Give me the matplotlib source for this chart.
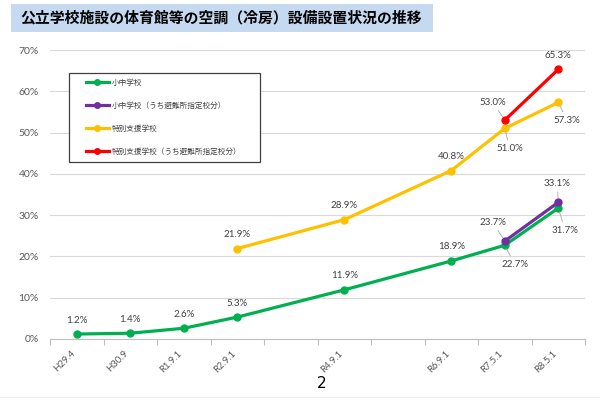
import matplotlib
matplotlib.use('Agg')
import matplotlib.pyplot as plt
from matplotlib.patches import Rectangle
from matplotlib.lines import Line2D
import numpy as np

plt.rcParams['font.family'] = ['Lato', 'Noto Sans CJK JP', 'DejaVu Sans']

title = '公立学校施設の体育館等の空調（冷房）設備設置状況の推移'
dates = ['H29.4', 'H30.9', 'R1.9.1', 'R2.9.1', '', 'R4.9.1', '', 'R6.9.1', 'R7.5.1', 'R8.5.1']
names = ['小中学校', '小中学校（うち避難所指定校分）', '特別支援学校', '特別支援学校（うち避難所指定校分）']

# % values per date, None = no data
shochu = [1.2, 1.4, 2.6, 5.3, None, 11.9, None, 18.9, 22.7, 31.7]
shochu_hinan = [None, None, None, None, None, None, None, None, 23.7, 33.1]
tokubetsu = [None, None, None, 21.9, None, 28.9, None, 40.8, 51.0, 57.3]
tokubetsu_hinan = [None, None, None, None, None, None, None, None, 53.0, 65.3]

colors = ['#00b050', '#7030a0', '#ffc000', '#ff0000']

# label offsets in pixels (default: straight above)
offsets = [
    {8: (10, -19), 9: (7, -22)},
    {8: (-12, 19), 9: (-1, 19)},
    {8: (5, -20), 9: (9, -18)},
    {8: (-12, 18), 9: (0, 14)},
]

fig = plt.figure(figsize=(6, 4), dpi=100)
ax = fig.add_axes([50/600, 1-339/400, 535/600, 289/400])

series = [shochu, shochu_hinan, tokubetsu, tokubetsu_hinan]
for i, vals in enumerate(series):
    xs = [k for k, v in enumerate(vals) if v is not None]
    ys = [v for v in vals if v is not None]
    ax.plot(xs, ys, color=colors[i], lw=2.3, marker='o', ms=5, zorder=3+i)
    for x, y in zip(xs, ys):
        off = offsets[i].get(x, (0, 14))
        lead = None
        if off[0] != 0 or abs(off[1]) > 15:
            lead = dict(arrowstyle='-', color='#a6a6a6', lw=0.6, shrinkA=1, shrinkB=3)
        ax.annotate(f'{y:.1f}%', (x, y), xytext=off, textcoords='offset pixels',
                    ha='center', va='center', fontsize=7, color='#404040',
                    arrowprops=lead, zorder=10)

ax.set_xlim(-0.5, 9.5)
ax.set_ylim(0, 70)
ax.set_xticks(range(len(dates)))
ax.set_xticklabels(dates, rotation=45, ha='right', fontsize=6.8, color='#595959')
ax.set_xticks(np.arange(-0.5, 10, 1), minor=True)
ax.tick_params(axis='x', which='major', length=0, pad=7)
ax.tick_params(axis='x', which='minor', length=4, color='#bfbfbf', width=0.8)
ax.set_yticks(range(0, 80, 10))
ax.set_yticklabels([f'{v}%' for v in range(0, 80, 10)], fontsize=7.5, color='#595959')
ax.tick_params(axis='y', length=0, pad=8)
ax.yaxis.grid(True, color='#d9d9d9', lw=0.8)
ax.set_axisbelow(True)
for s in ['top', 'right', 'left']:
    ax.spines[s].set_visible(False)
ax.spines['bottom'].set_color('#bfbfbf')

# legend box
fig.patches.append(Rectangle((69/600, 1-162/400), 191/600, 89/400, transform=fig.transFigure,
                             facecolor='white', edgecolor='#404040', lw=0.9, zorder=5))
leg_handles = [Line2D([], [], color=c, lw=2.3, marker='o', ms=4) for c in colors]
fig.legend(leg_handles, names, loc='upper left', bbox_to_anchor=(86/600, 1-78/400),
           frameon=False, fontsize=5.5, labelspacing=2.0, handlelength=3.0,
           handletextpad=0.4, borderpad=0, borderaxespad=0, labelcolor='#404040').set_zorder(6)

# title
fig.patches.append(Rectangle((11/600, 1-32/400), 422/600, 28/400, transform=fig.transFigure,
                             facecolor='#c5d9f1', edgecolor='none', zorder=1))
fig.text(20/600, 1-18/400, title, fontsize=10.7, fontweight='bold', va='center',
         family=['Noto Sans CJK JP', 'DejaVu Sans'], zorder=2)

# page number and footer line
fig.text(322/600, 1-383/400, '2', fontsize=11, ha='center', va='center',
         family=['Liberation Sans Narrow', 'DejaVu Sans'])
fig.add_artist(Line2D([0, 1], [1-397/400, 1-397/400], color='#ebebeb', lw=0.8))

fig.savefig('out.png', dpi=100)
